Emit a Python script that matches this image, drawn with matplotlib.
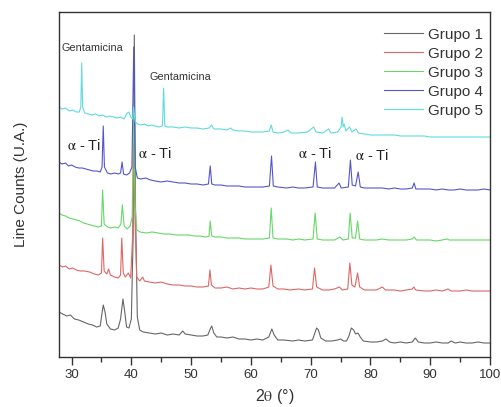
import matplotlib
matplotlib.use("Agg")
import matplotlib.pyplot as plt
from matplotlib.ticker import MultipleLocator

plt.rcParams['font.family'] = ['Liberation Sans', 'DejaVu Sans']
plt.rcParams['mathtext.fontset'] = 'stix'

# ---------------- data (2theta, counts in a.u., stacked) ----------------
g1_tt = [27.9, 28.5, 29.2, 29.8, 30.5, 31.2, 32.0, 32.8, 33.5, 34.2, 34.8, 35.0, 35.3, 35.6, 35.9,
         36.5, 37.2, 37.8, 38.2, 38.6, 38.9, 39.2, 39.6, 40.0, 40.3, 40.5, 40.7, 41.0, 41.4, 42.0,
         43, 44, 45, 46, 47, 48, 48.6, 49.0, 50, 51, 52, 52.8, 53.2, 53.45, 53.8, 54.3, 55, 56, 57,
         58, 59, 60, 61, 62, 63.0, 63.5, 63.9, 64.5, 65.5, 67, 68, 69, 70.3, 70.7, 71.0, 71.3, 71.7,
         72.5, 73.5, 74.5, 75.0, 75.5, 76.0, 76.4, 76.8, 77.2, 77.5, 77.9, 78.3, 78.8, 80, 81, 82,
         82.6, 83.2, 84, 85, 86, 87, 87.5, 88.0, 89, 90, 91, 92, 93, 93.5, 94.2, 95, 96, 97, 98, 99, 100]
g1_cts = [45, 43, 41, 42, 38, 37, 35, 33, 32, 30, 31, 40, 52, 45, 33,
          28, 27, 29, 38, 58, 45, 30, 29, 38, 120, 322, 150, 40, 27, 25,
          24, 23, 24, 22, 23, 22, 26, 23, 22, 21, 21, 22, 28, 31, 24, 20, 20, 19, 20,
          18, 18, 17, 18, 17, 20, 28, 22, 17, 17, 16, 17, 16, 17, 24, 29, 27, 19,
          16, 16, 17, 18, 16, 16, 21, 29, 27, 23, 24, 20, 16, 15, 15, 16,
          18, 15, 14, 15, 14, 15, 19, 15, 14, 14, 15, 14, 14, 16, 14, 15, 14, 14, 15, 14, 14]

g2_tt = [27.9, 28.5, 29, 29.6, 30.2, 30.8, 31.5, 32.2, 33, 33.8, 34.5, 35.0, 35.2, 35.45, 35.9,
         36.2, 36.5, 37.2, 37.8, 38.2, 38.4, 38.65, 39.0, 39.5, 39.9, 40.2, 40.4, 40.6, 40.9, 41.4,
         41.9, 42.2, 43, 44, 45, 46, 47, 48, 49, 50, 51, 52, 52.9, 53.15, 53.4, 54, 55, 56, 57, 58,
         59, 60, 61, 62, 63.0, 63.35, 63.7, 64.5, 65.5, 66.5, 68, 69, 70.3, 70.65, 71.0, 72, 73, 74,
         74.8, 75.3, 76.2, 76.55, 76.9, 77.4, 77.85, 78.2, 79, 80, 81, 82.0, 82.5, 84, 85, 86, 87.0,
         87.25, 87.6, 89, 90, 91, 92, 93.0, 93.5, 95, 96, 97, 98, 99, 100]
g2_cts = [92, 90, 91, 88, 89, 87, 86, 86, 85, 83, 82, 84, 119, 86, 83,
          88, 82, 80, 79, 82, 119, 84, 80, 84, 79, 120, 207, 140, 80, 76,
          80, 76, 75, 74, 75, 73, 72, 72, 71, 71, 70, 70, 71, 87, 72, 69, 69, 70, 68, 69,
          68, 69, 68, 68, 70, 92, 71, 68, 68, 67, 68, 67, 68, 89, 70, 67, 67, 68,
          70, 67, 68, 94, 72, 70, 84, 70, 67, 67, 67, 70, 67, 67, 66, 67, 68,
          70, 67, 66, 66, 67, 66, 68, 66, 66, 67, 66, 66, 66, 66]

g3_tt = [27.9, 28.4, 29, 29.6, 30.2, 30.8, 31.4, 32, 32.6, 33.2, 33.8, 34.4, 35.0, 35.2, 35.45,
         36, 36.6, 37.2, 37.8, 38.25, 38.5, 38.8, 39.3, 39.8, 40.15, 40.4, 40.65, 40.9, 41.5, 42.5,
         43.5, 44.5, 45.5, 46.5, 47.5, 48.5, 49.5, 50.5, 51.5, 52.5, 53.0, 53.2, 53.45, 54, 55, 56,
         57, 58, 59, 60, 61, 62, 63.1, 63.4, 63.7, 64.5, 66, 67, 68, 69, 70.4, 70.75, 71.1, 72, 73,
         74, 74.9, 75.4, 76.3, 76.6, 76.95, 77.5, 77.85, 78.2, 79, 80, 81, 82, 83, 84, 85, 86, 87.0,
         87.3, 87.7, 89, 90, 91, 92, 92.8, 93.2, 95, 96, 97, 98, 99, 100]
g3_cts = [144, 142, 141, 139, 138, 137, 136, 134, 133, 132, 131, 130, 131, 167, 133,
          130, 129, 130, 129, 133, 152, 131, 128, 131, 140, 262, 150, 127, 125, 124,
          125, 124, 123, 123, 122, 122, 122, 121, 121, 120, 121, 136, 121, 120, 120, 119,
          119, 119, 118, 118, 118, 118, 119, 149, 119, 118, 118, 117, 118, 117, 118, 144, 118, 117, 117,
          117, 120, 117, 118, 144, 119, 119, 136, 118, 117, 117, 117, 118, 117, 117, 117, 117, 118,
          120, 117, 117, 117, 116, 117, 118, 117, 117, 117, 117, 117, 117, 117]

g4_tt = [27.9, 28.4, 29, 29.5, 30, 30.6, 31.2, 31.8, 32.4, 33, 33.6, 34.2, 34.8, 35.1, 35.3, 35.5,
         36, 36.6, 37.2, 37.8, 38.2, 38.45, 38.7, 39.2, 39.7, 40.1, 40.4, 40.65, 41, 41.6, 42.4,
         43.2, 44, 45, 46, 47, 48, 49, 50, 51, 52, 52.9, 53.2, 53.45, 54, 55, 56, 57, 58, 59, 60,
         61, 62, 63.1, 63.45, 63.75, 64.5, 66, 67, 68, 69, 70.4, 70.8, 71.1, 72, 73, 74, 74.75, 75.1,
         76.3, 76.65, 76.95, 77.5, 77.95, 78.3, 79, 80, 81, 82, 83, 84, 85, 86, 87.0, 87.3, 87.6,
         89, 90, 91, 92, 93, 94, 95, 96, 97, 98, 99, 100]
g4_cts = [195, 193, 194, 191, 192, 190, 189, 189, 188, 187, 186, 186, 185, 190, 231, 190,
          184, 183, 184, 183, 184, 195, 183, 182, 184, 190, 310, 190, 179, 178, 179,
          177, 176, 175, 176, 175, 174, 174, 173, 173, 172, 173, 191, 173, 172, 172, 171, 171, 171, 170, 170,
          170, 170, 171, 201, 171, 170, 169, 170, 169, 169, 170, 195, 170, 169, 169, 169, 174, 169,
          170, 197, 172, 171, 185, 170, 169, 169, 169, 169, 168, 169, 168, 168, 169, 174, 168,
          168, 168, 167, 168, 167, 167, 168, 167, 167, 167, 168, 167]

g5_tt = [27.9, 28.4, 29, 29.6, 30.2, 30.8, 31.3, 31.55, 31.7, 31.85, 32.2, 32.8, 33.4, 34, 34.6,
         35.2, 35.8, 36.4, 37, 37.6, 38.2, 38.8, 39.3, 39.6, 39.9, 40.2, 40.4, 40.6, 41, 41.6, 42.2,
         42.8, 43.4, 44, 44.6, 45.2, 45.4, 45.6, 46, 47, 48, 49, 50, 51, 52, 53, 53.4, 53.8, 55, 56,
         56.6, 57, 58, 59, 60, 61, 62, 63.1, 63.4, 63.7, 64.5, 65.5, 66.2, 66.7, 68, 69.5, 70.5, 70.9,
         72, 73, 73.4, 74.5, 75.1, 75.25, 75.45, 75.6, 75.9, 76.5, 76.9, 77.6, 78.0, 79, 80, 81, 82,
         83, 84, 85, 86, 87, 88, 89, 90, 92, 94, 96, 98, 100]
g5_cts = [250, 248, 249, 246, 247, 245, 245, 250, 294, 250, 244, 243, 242, 243, 241,
          242, 240, 241, 240, 239, 240, 238, 244, 245, 240, 238, 250, 236, 233, 232, 233,
          231, 232, 231, 230, 231, 269, 231, 230, 230, 229, 230, 229, 229, 228, 229, 232, 228, 228, 227,
          229, 227, 226, 226, 225, 225, 225, 226, 232, 225, 224, 225, 227, 224, 224, 225, 230, 225,
          224, 228, 224, 225, 230, 240, 230, 233, 226, 230, 225, 228, 224, 223, 222, 222, 222,
          222, 222, 221, 221, 221, 221, 221, 220, 220, 220, 220, 220, 220]

group_names = ["Grupo 1", "Grupo 2", "Grupo 3", "Grupo 4", "Grupo 5"]
group_colors = ["#666666", "#e06666", "#66d866", "#5555cc", "#5fdcdc"]

# ---------------- figure ----------------
fig = plt.figure(figsize=(5.01, 4.07), dpi=100)
ax = fig.add_axes([59 / 501, 1 - 357 / 407, 431 / 501, 345 / 407])

series = [(g1_tt, g1_cts), (g2_tt, g2_cts), (g3_tt, g3_cts), (g4_tt, g4_cts), (g5_tt, g5_cts)]
for (tt, cts), name, col in zip(series, group_names, group_colors):
    ax.plot(tt, cts, color=col, lw=0.8, label=name)

ax.set_xlim(27.9, 100)
ax.set_ylim(0, 345)
ax.set_yticks([])
ax.xaxis.set_major_locator(MultipleLocator(10))
ax.xaxis.set_minor_locator(MultipleLocator(5))
ax.tick_params(axis='x', which='major', direction='out', length=6, width=1,
               colors='#333333', labelsize=9.5, pad=3)
ax.tick_params(axis='x', which='minor', direction='out', length=3.5, width=1, colors='#333333')
for s in ax.spines.values():
    s.set_color('#333333')
    s.set_linewidth(1.0)

ax.set_xlabel(r'2$\mathrm{\theta}$ (°)', fontsize=11.5, color='#333333', labelpad=4)
ax.set_ylabel('Line Counts (U.A.)', fontsize=11, color='#333333', labelpad=22)

# annotations
ax.text(28.4, 309, 'Gentamicina', fontsize=7.8, color='#333333', va='center', ha='left')
ax.text(43.1, 280, 'Gentamicina', fontsize=7.8, color='#333333', va='center', ha='left')
alpha_lbl = r'$\mathrm{\alpha}$ - Ti'
for x0, y0 in [(29.2, 211), (41.1, 203), (67.9, 204), (77.4, 202)]:
    ax.text(x0, y0, alpha_lbl, fontsize=10.5, color='#222222', va='center', ha='left')

leg = ax.legend(loc='upper right', bbox_to_anchor=(0.984, 0.955), frameon=False,
                fontsize=11, handlelength=2.55, handletextpad=0.35, labelspacing=0.33,
                borderpad=0, borderaxespad=0)
for t in leg.get_texts():
    t.set_color('#333333')

fig.savefig('out.png', dpi=100)
